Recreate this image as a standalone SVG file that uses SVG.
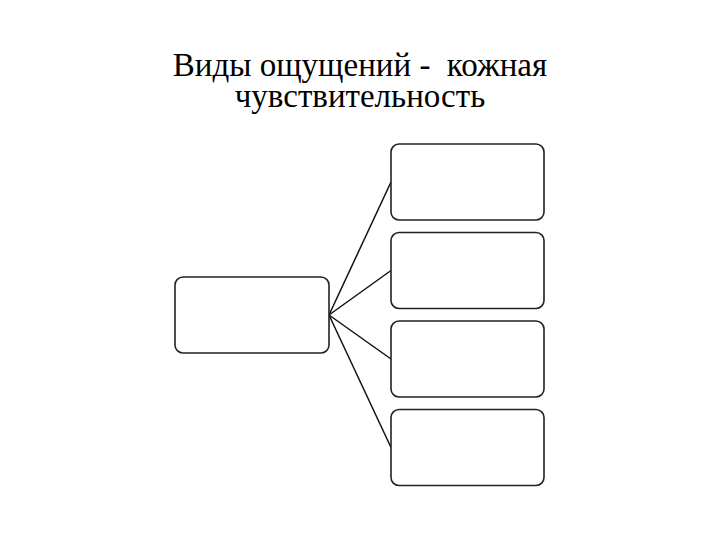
<svg xmlns="http://www.w3.org/2000/svg" width="720" height="540" viewBox="0 0 720 540">
<style>
.box{fill:#fff;stroke:#222;stroke-width:1.6}
.conn{stroke:#111;stroke-width:1.5;fill:none}
</style>
<rect width="720" height="540" fill="#fff"/>
<g id="heading" font-family="Liberation Serif, serif" font-size="33" text-anchor="middle" fill="#000">
<text x="360" y="76" xml:space="preserve">Виды ощущений -  кожная</text>
<text x="360" y="107">чувствительность</text>
</g>
<g id="connectors">
<line class="conn" x1="329" y1="315" x2="391" y2="182"/>
<line class="conn" x1="329" y1="315" x2="391" y2="270.5"/>
<line class="conn" x1="329" y1="315" x2="391" y2="359"/>
<line class="conn" x1="329" y1="315" x2="391" y2="447.5"/>
</g>
<g id="root"><rect class="box" x="175" y="277" width="154" height="76" rx="8"/></g>
<g id="child1"><rect class="box" x="391" y="144" width="153" height="76" rx="8"/></g>
<g id="child2"><rect class="box" x="391" y="232.5" width="153" height="76" rx="8"/></g>
<g id="child3"><rect class="box" x="391" y="321" width="153" height="76" rx="8"/></g>
<g id="child4"><rect class="box" x="391" y="409.5" width="153" height="76" rx="8"/></g>
</svg>
